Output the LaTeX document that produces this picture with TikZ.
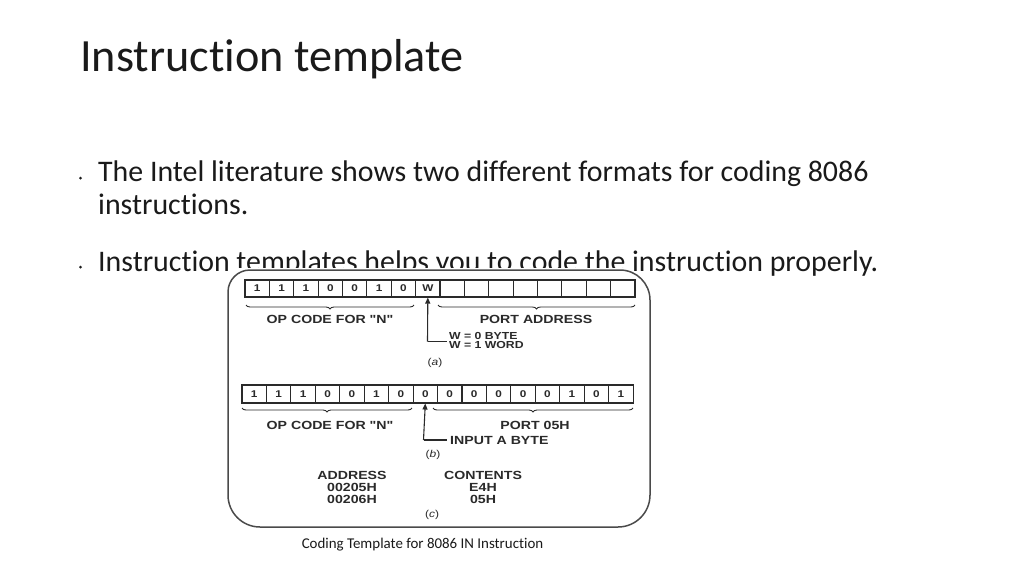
\documentclass[tikz,border=0pt]{standalone}
\usepackage{fontspec}
\setmainfont{Carlito}[Ligatures=NoCommon]
\newfontfamily\figfont{Liberation Sans}[FakeStretch=1.2]
\usetikzlibrary{decorations.pathreplacing,arrows.meta}
\definecolor{ink}{HTML}{1A1A1A}
\definecolor{scan}{HTML}{2A2A2A}
\tikzset{
  slidetext/.style={anchor=base west,inner sep=0pt,text=ink,font=\fontsize{29.87}{29.87}\selectfont},
  bulletdot/.style={circle,fill=ink,inner sep=0pt,minimum size=3pt},
  lbl/.style={inner sep=0pt,text=scan,font=\figfont\bfseries\fontsize{11.8}{11.8}\selectfont},
  smalllbl/.style={anchor=base west,inner sep=0pt,text=scan,font=\figfont\bfseries\fontsize{10.2}{10.2}\selectfont},
  cella/.style={draw=scan,line width=1.1pt,inner sep=0pt,minimum width=24.375pt,minimum height=17pt,text=scan,font=\figfont\bfseries\fontsize{9.8}{9.8}\selectfont},
  cellb/.style={draw=scan,line width=1.1pt,inner sep=0pt,minimum width=24.44pt,minimum height=18pt,text=scan,font=\figfont\bfseries\fontsize{9.8}{9.8}\selectfont},
  bracedec/.style={draw=scan,line width=0.9pt,decorate,decoration={brace,amplitude=4pt,mirror}},
  pointer/.style={draw=scan,line width=1.1pt},
  framebox/.style={draw=scan!85,line width=1.5pt},
}
\begin{document}
\begin{tikzpicture}[x=1pt,y=-1pt]
\useasboundingbox[fill=white] (0,0) rectangle (1024,576);
% title and bullets
\node[anchor=base west,inner sep=0pt,text=ink,font=\fontsize{46.2}{46.2}\selectfont] (title) at (80,71) {Instruction template};
\node[bulletdot] (b1) at (80.5,178) {};
\node[slidetext] (t1) at (98,181) {The Intel literature shows two different formats for coding 8086};
\node[slidetext] (t2) at (98,214) {instructions.};
\node[bulletdot] (b2) at (80.5,267) {};
\node[slidetext] (t3) at (98,271) {Instruction templates helps you to code the instruction properly.};
% white mask of the picture
\fill[white] (233,267.5) rectangle (628,290);
% frame
\draw[framebox] (228,420) {[rounded corners=22pt] -- (228,270) -- (439,270)}
  {[rounded corners=30pt] -- (650,270) -- (650,420)}
  {[rounded corners=32pt] -- (650,527) -- (439,527)}
  {[rounded corners=32pt] -- (228,527) -- (228,420)};
% row (a)
\foreach \t [count=\i] in {1,1,1,0,0,1,0,W,{},{},{},{},{},{},{},{}} {
  \node[cella] (a\i) at ({245+(\i-0.5)*24.375},288.5) {\t};
}
\draw[bracedec] (246,305) -- (414,305);
\draw[bracedec] (438,305) -- (635,305);
\node[lbl] (opa) at (330,319) {OP CODE FOR "N"};
\node[lbl] (porta) at (536,319) {PORT ADDRESS};
\coordinate (ka) at (427.5,341.5);
\draw[pointer,-{Triangle[length=6pt,width=5pt]}] (ka) -- (a8.south);
\node[smalllbl] (w0) at (449,339.5) {W = 0 BYTE};
\node[smalllbl] (w1) at (449,348) {W = 1 WORD};
\draw[pointer] (ka) -- (447,341.5);
\node[lbl,font=\figfont\fontsize{10}{10}\selectfont] (capa) at (435,363) {(\textit{a})};
% row (b)
\foreach \t [count=\i] in {1,1,1,0,0,1,0,0,0,0,0,0,0,1,0,1} {
  \node[cellb] (b\i) at ({242+(\i-0.5)*24.44},394) {\t};
}
\draw[bracedec] (242,408) -- (412,408);
\draw[bracedec] (433,408) -- (633,408);
\node[lbl] (opb) at (330,425) {OP CODE FOR "N"};
\node[lbl] (portb) at (535,425) {PORT 05H};
\coordinate (kb) at (423.5,440);
\draw[pointer,-{Triangle[length=6pt,width=5pt]}] (kb) -- (b8.south);
\node[lbl,anchor=west] (inb) at (450,440) {INPUT A BYTE};
\draw[pointer,shorten >=3pt] (kb) -- (inb.west);
\node[lbl,font=\figfont\fontsize{10}{10}\selectfont] (capb) at (433,455) {(\textit{b})};
% table (c)
\node[lbl] (addr) at (352,475) {ADDRESS};
\node[lbl] (ad1) at (352,487) {00205H};
\node[lbl] (ad2) at (352,499) {00206H};
\node[lbl] (cont) at (483,475) {CONTENTS};
\node[lbl] (co1) at (483,487) {E4H};
\node[lbl] (co2) at (483,499) {05H};
\node[lbl,font=\figfont\fontsize{10}{10}\selectfont] (capc) at (432,515) {(\textit{c})};
% caption
\node[anchor=base,inner sep=0pt,text=ink,font=\fontsize{14.93}{14.93}\selectfont] (cap) at (422.5,548) {Coding Template for 8086 IN Instruction};
\end{tikzpicture}
\end{document}
